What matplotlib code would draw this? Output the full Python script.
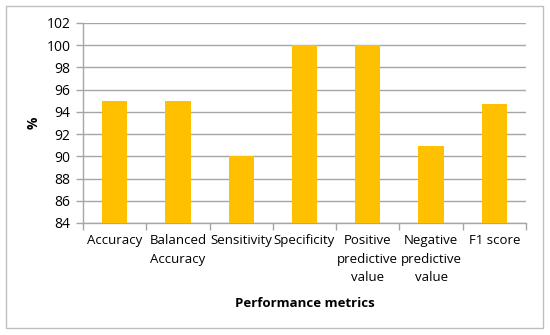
import numpy as np
import matplotlib
matplotlib.use("Agg")
import matplotlib.pyplot as plt
from matplotlib.patches import Rectangle

# data
categories = ["Accuracy", "Balanced\nAccuracy", "Sensitivity", "Specificity",
              "Positive\npredictive\nvalue", "Negative\npredictive\nvalue", "F1 score"]
values = [95, 95, 90, 100, 100, 90.9, 94.7]
yticks = list(range(84, 103, 2))

plt.rcParams['font.family'] = ['Open Sans', 'DejaVu Sans']

fig = plt.figure(figsize=(5.5, 3.35), dpi=100)
ax = fig.add_axes([83/550, 1 - 223/335, (526 - 83)/550, (223 - 23)/335])

x = np.arange(len(categories))
ax.bar(x, values, width=0.4, color="#FFC000", zorder=3)

ax.set_ylim(84, 102)
ax.set_xlim(-0.5, len(categories) - 0.5)
ax.set_yticks(yticks)
ax.set_yticklabels([str(t) for t in yticks], fontsize=10)
ax.yaxis.grid(True, color="#A6A6A6", linewidth=1, zorder=0)

# category labels without ticks, separator ticks at boundaries
ax.set_xticks(x)
ax.set_xticklabels(categories, fontsize=9.5, linespacing=1.55, va="top")
ax.tick_params(axis="x", length=0, pad=8)
ax.set_xticks(np.arange(-0.5, len(categories), 1), minor=True)
ax.tick_params(axis="x", which="minor", length=5, color="#A6A6A6", width=1)
ax.tick_params(axis="y", length=5, color="#A6A6A6", width=1, pad=4)

for s in ["top", "right"]:
    ax.spines[s].set_visible(False)
for s in ["left", "bottom"]:
    ax.spines[s].set_color("#A6A6A6")
    ax.spines[s].set_linewidth(1)

ax.set_ylabel("%", fontsize=10, fontweight="bold", labelpad=4)
ax.set_xlabel("Performance metrics", fontsize=9.5, fontweight="bold", labelpad=9)

# outer chart border
fig.patches.append(Rectangle((6/550, 1 - 328/335), (543 - 6)/550, (328 - 6)/335,
                             transform=fig.transFigure, fill=False,
                             edgecolor="#BFBFBF", linewidth=1))

fig.savefig("out.png", dpi=100)
